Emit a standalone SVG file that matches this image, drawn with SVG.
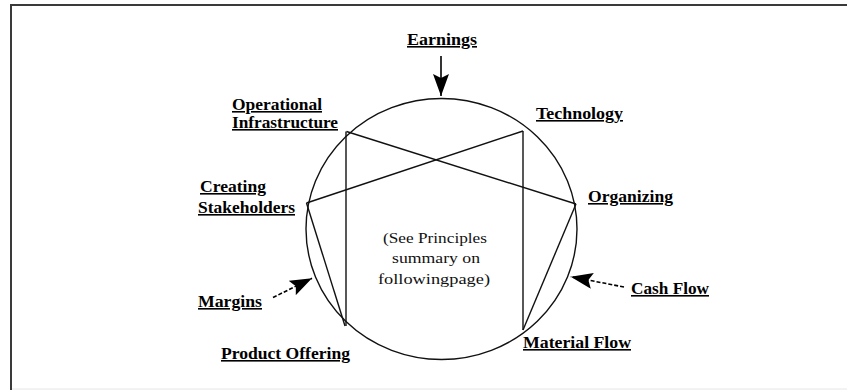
<svg xmlns="http://www.w3.org/2000/svg" width="847" height="390" viewBox="0 0 847 390">
  <style>
    .lbl { font-family: "Liberation Serif", "Times New Roman", serif; font-weight: bold; font-size: 16px; fill: #000; text-decoration: underline; }
    .note { font-family: "Liberation Serif", "Times New Roman", serif; font-size: 15px; fill: #111; text-anchor: middle; }
    .chord { stroke: #111; stroke-width: 1.4; fill: none; }
    .arr { stroke: #000; stroke-width: 1.6; fill: none; marker-end: url(#head); }
    .dash { stroke-dasharray: 4 2; }
  </style>
  <defs>
    <marker id="head" markerUnits="userSpaceOnUse" markerWidth="22" markerHeight="16" refX="22" refY="8" orient="auto" viewBox="0 0 22 16">
      <path d="M0,0 L22,8 L0,16 L4,8 Z" fill="#000"/>
    </marker>
  </defs>
  <rect x="0" y="0" width="847" height="390" fill="#fff"/>
  <!-- frame -->
  <path d="M11,390 V5 H847" fill="none" stroke="#3a3a3a" stroke-width="2"/>
  <line x1="12" y1="389" x2="847" y2="389" stroke="#e6e6e6" stroke-width="1"/>

  <!-- circle -->
  <g id="cycle">
    <ellipse cx="441.5" cy="229" rx="135.5" ry="130.5" class="chord"/>
    <text class="note" x="435" y="243" textLength="104" lengthAdjust="spacingAndGlyphs">(See Principles</text>
    <text class="note" x="436" y="263" textLength="88" lengthAdjust="spacingAndGlyphs">summary on</text>
    <text class="note" x="434" y="284" textLength="112" lengthAdjust="spacingAndGlyphs">followingpage)</text>
  </g>

  <g id="connectors">
    <line class="chord" x1="346.5" y1="131.5" x2="576" y2="204"/>
    <line class="chord" x1="523" y1="131" x2="306.5" y2="203"/>
    <line class="chord" x1="346" y1="131.5" x2="346" y2="326"/>
    <line class="chord" x1="523" y1="131" x2="523" y2="330"/>
    <line class="chord" x1="306.5" y1="203" x2="345" y2="326"/>
    <line class="chord" x1="576" y1="204" x2="523" y2="330"/>
    <line class="arr" x1="441" y1="56" x2="441" y2="96"/>
    <line class="arr dash" x1="273" y1="297.5" x2="312" y2="278.3"/>
    <line class="arr dash" x1="624" y1="287" x2="570.7" y2="276.7"/>
  </g>

  <g id="earnings"><text class="lbl" x="407" y="45" textLength="70" lengthAdjust="spacingAndGlyphs">Earnings</text></g>
  <g id="operational-infrastructure">
    <text class="lbl" x="232" y="110" textLength="90" lengthAdjust="spacingAndGlyphs">Operational</text>
    <text class="lbl" x="232" y="128" textLength="106" lengthAdjust="spacingAndGlyphs">Infrastructure</text>
  </g>
  <g id="technology"><text class="lbl" x="536" y="119" textLength="87" lengthAdjust="spacingAndGlyphs">Technology</text></g>
  <g id="creating-stakeholders">
    <text class="lbl" x="200" y="192" textLength="66" lengthAdjust="spacingAndGlyphs">Creating</text>
    <text class="lbl" x="198" y="213" textLength="97" lengthAdjust="spacingAndGlyphs">Stakeholders</text>
  </g>
  <g id="organizing"><text class="lbl" x="588" y="202" textLength="85" lengthAdjust="spacingAndGlyphs">Organizing</text></g>
  <g id="margins"><text class="lbl" x="198" y="307" textLength="64" lengthAdjust="spacingAndGlyphs">Margins</text></g>
  <g id="cash-flow"><text class="lbl" x="631" y="294" textLength="78" lengthAdjust="spacingAndGlyphs">Cash Flow</text></g>
  <g id="product-offering"><text class="lbl" x="221" y="359" textLength="129" lengthAdjust="spacingAndGlyphs">Product Offering</text></g>
  <g id="material-flow"><text class="lbl" x="523" y="348" textLength="108" lengthAdjust="spacingAndGlyphs">Material Flow</text></g>
</svg>
